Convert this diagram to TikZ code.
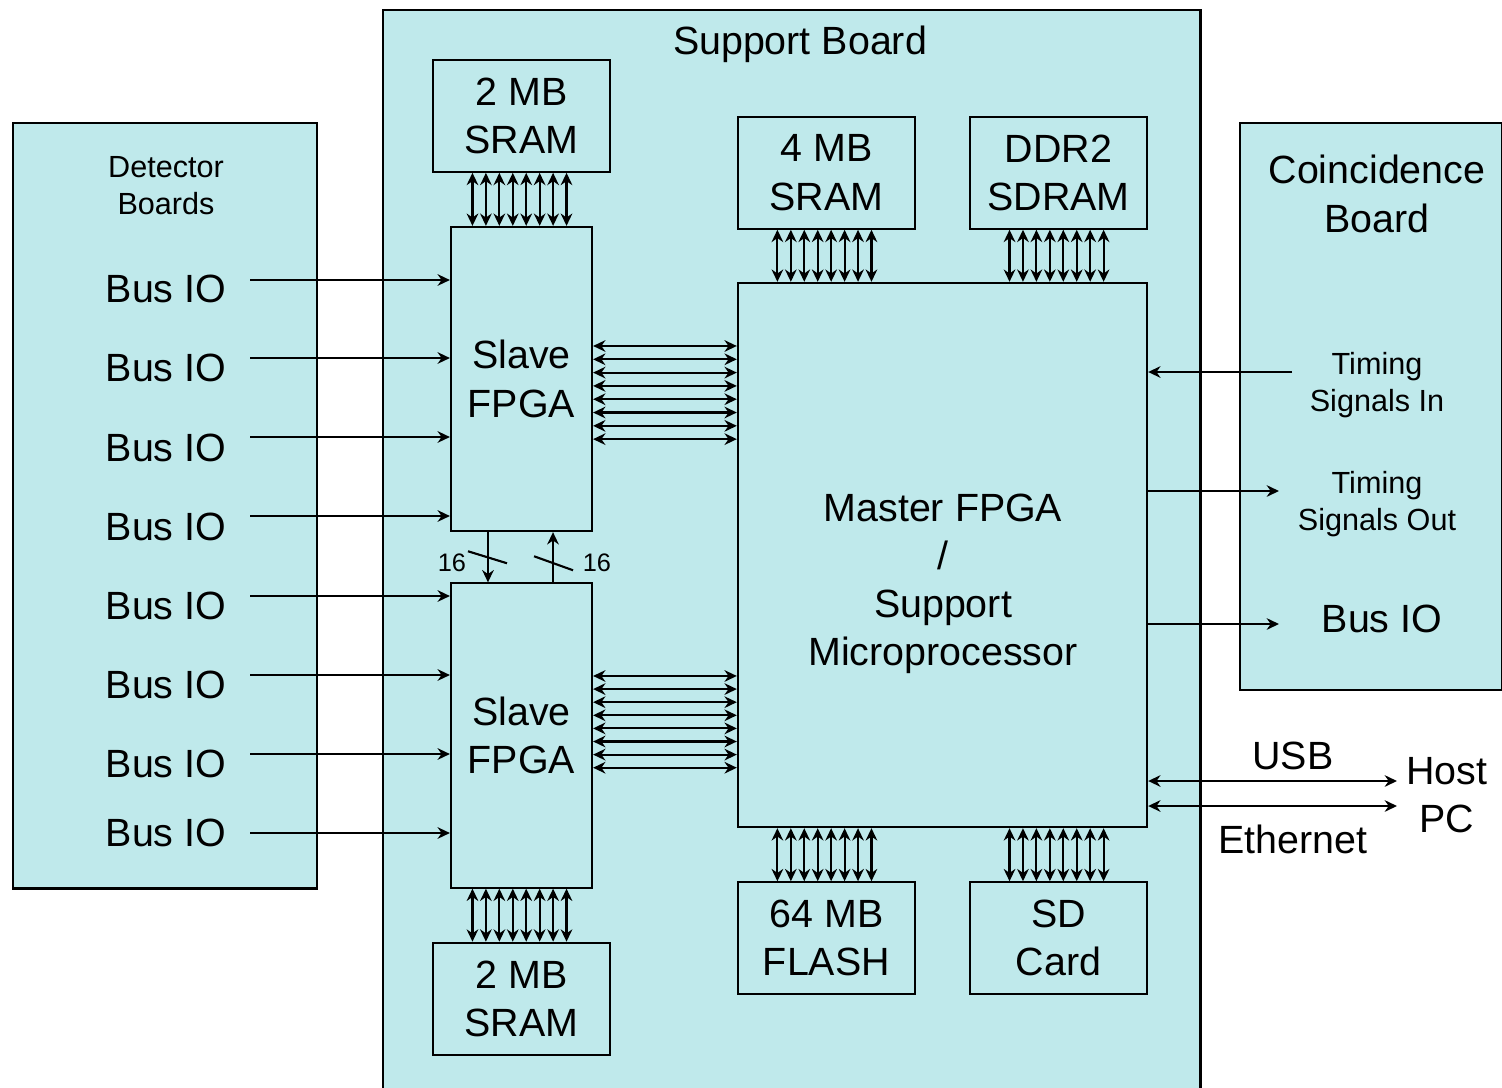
\documentclass[tikz,border=0pt]{standalone}
\usepackage{fontspec}
\setmainfont{Liberation Sans}
\usepackage{tikz}
\usetikzlibrary{arrows.meta, positioning, calc}
\definecolor{boardcyan}{RGB}{191,233,235}
\tikzset{
  basebox/.style={rectangle,draw=black,line width=0.6pt,fill=boardcyan,align=center,inner sep=0pt},
  boardnode/.style={basebox,anchor=north west},
  memnode/.style={basebox,minimum width=1.77cm,minimum height=1.12cm,font=\fontsize{11.2}{13.7}\selectfont},
  slavenode/.style={basebox,minimum width=1.41cm,minimum height=3.04cm,font=\fontsize{11.2}{13.7}\selectfont},
  masternode/.style={basebox,minimum width=4.09cm,minimum height=5.44cm},
  bigtxt/.style={align=center,inner sep=0pt,font=\fontsize{11.2}{13.7}\selectfont},
  smalltxt/.style={align=center,inner sep=0pt,font=\fontsize{8.7}{10.5}\selectfont},
  widthtxt/.style={inner sep=0pt,font=\fontsize{7.2}{8.6}\selectfont},
  arr/.style={-{Stealth[length=3.5pt,width=3.3pt]},line width=0.6pt},
  biarr/.style={{Stealth[length=3.5pt,width=3.3pt]}-{Stealth[length=3.5pt,width=3.3pt]},line width=0.6pt}
}

\begin{document}
\begin{tikzpicture}[x=0.01cm,y=-0.01cm]
  \useasboundingbox (0,0) rectangle (1502,1087);
  \clip (0,0) rectangle (1502,1087);

  %% Boards
  \node[boardnode,minimum width=8.17cm,minimum height=11.0cm] (support) at (382,9) {};
  \node[bigtxt] (supporttitle) at (800,44) {Support Board};
  \node[boardnode,minimum width=3.04cm,minimum height=7.65cm] (detector) at (12,122) {};
  \node[smalltxt] (detectortitle) at (166,186) {Detector\\Boards};
  \node[boardnode,minimum width=2.62cm,minimum height=5.67cm] (coinc) at (1239,122) {};
  \node[bigtxt] (coinctitle) at (1377,194) {Coincidence\\Board};

  %% FPGAs
  \node[slavenode] (slaveT) at (521.5,379) {Slave\\FPGA};
  \node[slavenode] (slaveB) at (521.5,735.5) {Slave\\FPGA};
  \node[masternode] (master) at (942.5,555) {};
  \node[bigtxt] (mastertxt) at (943,584) {Master FPGA\\/\\Support\\Microprocessor};

  %% Memories
  \node[memnode,above=0.53cm of slaveT] (sramT) {2 MB\\SRAM};
  \node[memnode,below=0.53cm of slaveB] (sramB) {2 MB\\SRAM};
  \node[memnode,above=0.52cm of master.north west,anchor=south west] (sram4) {4 MB\\SRAM};
  \node[memnode,above=0.52cm of master.north east,anchor=south east] (ddr) {DDR2\\SDRAM};
  \node[memnode,below=0.53cm of master.south west,anchor=north west] (flash) {64 MB\\FLASH};
  \node[memnode,below=0.53cm of master.south east,anchor=north east] (sdcard) {SD\\Card};

  %% Parallel buses
  \foreach \k in {0,...,7} {
    \draw[biarr] ([xshift=-4.9mm+\k*1.343mm]sramT.south) -- ([xshift=-4.9mm+\k*1.343mm]sramT.south |- slaveT.north);
    \draw[biarr] ([xshift=-4.9mm+\k*1.343mm]sramB.north) -- ([xshift=-4.9mm+\k*1.343mm]sramB.north |- slaveB.south);
    \draw[biarr] ([xshift=-4.9mm+\k*1.343mm]sram4.south) -- ([xshift=-4.9mm+\k*1.343mm]sram4.south |- master.north);
    \draw[biarr] ([xshift=-4.9mm+\k*1.343mm]ddr.south) -- ([xshift=-4.9mm+\k*1.343mm]ddr.south |- master.north);
    \draw[biarr] ([xshift=-4.9mm+\k*1.343mm]flash.north) -- ([xshift=-4.9mm+\k*1.343mm]flash.north |- master.south);
    \draw[biarr] ([xshift=-4.9mm+\k*1.343mm]sdcard.north) -- ([xshift=-4.9mm+\k*1.343mm]sdcard.north |- master.south);
    \draw[biarr] ([yshift=3.3mm-\k*1.33mm]slaveT.east) -- ([yshift=3.3mm-\k*1.33mm]slaveT.east -| master.west);
    \draw[biarr] ([yshift=5.95mm-\k*1.31mm]slaveB.east) -- ([yshift=5.95mm-\k*1.31mm]slaveB.east -| master.west);
  }

  %% 16 bit links between the slaves
  \draw[arr] ([xshift=-3.35mm]slaveT.south) -- coordinate[midway] (dnmid) ([xshift=-3.35mm]slaveT.south |- slaveB.north);
  \draw[line width=0.6pt] ($(dnmid)+(-20,-6)$) -- ($(dnmid)+(19,6)$);
  \node[widthtxt] (dnwidth) at (452,563) {16};
  \draw[arr] ([xshift=3.15mm]slaveT.south |- slaveB.north) -- coordinate[midway] (upmid) ([xshift=3.15mm]slaveT.south);
  \draw[line width=0.6pt] ($(upmid)+(-19,-1)$) -- ($(upmid)+(20,13)$);
  \node[widthtxt] (upwidth) at (597,563) {16};

  %% Detector board inputs
  \foreach \i/\y/\ly/\s in {1/280/289/slaveT,2/358/368/slaveT,3/437/448/slaveT,4/516/527/slaveT,
                            5/596/606/slaveB,6/675/685/slaveB,7/754/764/slaveB,8/833/833/slaveB} {
    \node[bigtxt] (busio\i) at (166,\ly) {Bus IO};
    \coordinate (busin\i) at (250,\y);
    \draw[arr] (busin\i) -- (busin\i -| \s.west);
  }

  %% Coincidence board links
  \node[smalltxt] (tin) at (1377,385) {Timing\\Signals In};
  \coordinate (tinstart) at (1292,372);
  \draw[arr] (tinstart) -- (tinstart -| master.east);
  \node[smalltxt] (tout) at (1377,504) {Timing\\Signals Out};
  \coordinate (toutend) at (1279,491);
  \draw[arr] (toutend -| master.east) -- (toutend);
  \node[bigtxt] (busout) at (1382,619) {Bus IO};
  \coordinate (busoutend) at (1279,624);
  \draw[arr] (busoutend -| master.east) -- (busoutend);

  %% Host PC links
  \node[bigtxt] (host) at (1447,795) {Host\\PC};
  \coordinate (usbend) at (1397,781);
  \coordinate (ethend) at (1397,806);
  \draw[biarr] (usbend -| master.east) -- (usbend);
  \draw[biarr] (ethend -| master.east) -- (ethend);
  \node[bigtxt] (usb) at (1293,756) {USB};
  \node[bigtxt] (eth) at (1293,839) {Ethernet};
\end{tikzpicture}
\end{document}
